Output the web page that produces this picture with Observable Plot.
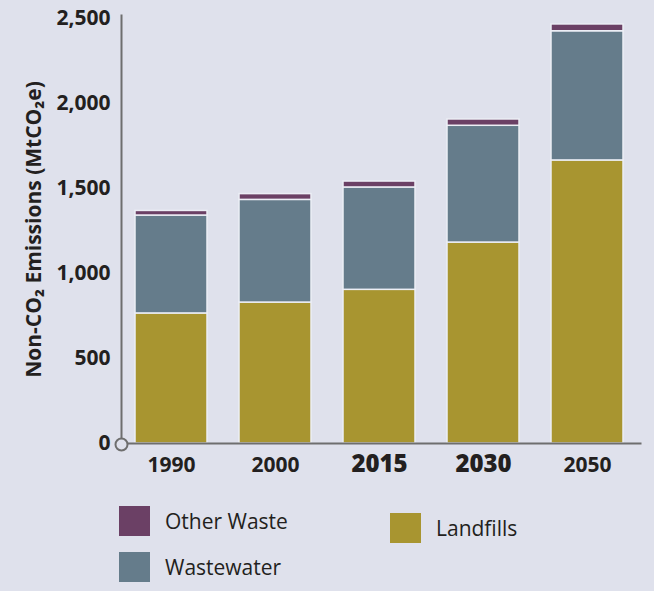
<!DOCTYPE html>
<html><head><meta charset="utf-8">
<script src="https://cdn.jsdelivr.net/npm/d3@7"></script>
<script src="https://cdn.jsdelivr.net/npm/@observablehq/plot@0.6"></script>
<style>
body{margin:0;background:#dfe1ec;}
#wrap{position:relative;width:654px;height:591px;background:#dfe1ec;font-family:"Open Sans",sans-serif;overflow:hidden}
#wrap svg{position:absolute;left:0;top:0}
.leg{position:absolute;display:flex;align-items:center;font-size:21px;color:#231f20;white-space:nowrap}
.sw{width:31px;height:30px;margin-right:15px;flex:none}
</style></head><body><div id="wrap"></div>
<script>
const years = ["1990", "2000", "2015", "2030", "2050"];
const landfills = [765, 829, 904, 1182, 1665];
const wastewater = [576, 604, 602, 687, 760];
const otherWaste = [27, 34, 35, 37, 40];
const seriesNames = ["Landfills", "Wastewater", "Other Waste"];
const seriesColors = ["#a89530", "#657c8b", "#6b4065"];
const boldYears = ["2015", "2030"];
const yTicks = [0, 500, 1000, 1500, 2000, 2500];
const yLabel = "Non-CO₂ Emissions (MtCO₂e)";

const rows = years.flatMap((yr, i) => [
  {year: yr, series: "Landfills", value: landfills[i]},
  {year: yr, series: "Wastewater", value: wastewater[i]},
  {year: yr, series: "Other Waste", value: otherWaste[i]}
]);

const bg = "#dfe1ec";
const axisColor = "#6e6e6e";
const ink = "#231f20";

const chart = Plot.plot({
  width: 654, height: 490,
  marginLeft: 121, marginRight: 14, marginTop: 15, marginBottom: 47,
  style: {background: "transparent", fontFamily: "'Open Sans', sans-serif", color: ink},
  x: {domain: years, range: [121, 637], paddingInner: 0.3077, paddingOuter: 0.1346, axis: null},
  y: {domain: [0, 2500], range: [443, 18], axis: null},
  color: {domain: seriesNames, range: seriesColors},
  marks: [
    Plot.barY(rows, {x: "year", y: "value", fill: "series", order: seriesNames, stroke: "#eceef5", strokeWidth: 1.5}),
    Plot.frame({anchor: "left", stroke: axisColor, strokeWidth: 2}),
    Plot.frame({anchor: "bottom", stroke: axisColor, strokeWidth: 2}),
    Plot.axisY({ticks: yTicks, tickFormat: d3.format(","), tickSize: 0, tickPadding: 11, fontSize: 21, fontWeight: 700, label: null, fill: ink}),
    Plot.text(years.filter(y => !boldYears.includes(y)), {x: d => d, frameAnchor: "bottom", dy: 28, fontSize: 21, fontWeight: 700, fill: ink}),
    Plot.text(boldYears, {x: d => d, frameAnchor: "bottom", dy: 28, fontSize: 24, fontWeight: 800, fill: ink}),
    Plot.text([yLabel], {x: null, y: null, text: d => d, frameAnchor: "left", textAnchor: "middle", rotate: -90, dx: -87, fontSize: 21, fontWeight: 700, fill: ink}),
    Plot.dot([0], {x: null, y: null, frameAnchor: "bottom-left", dy: 1, r: 6, fill: bg, stroke: axisColor, strokeWidth: 2})
  ]
});

const wrap = document.getElementById("wrap");
wrap.appendChild(chart);

const legendItems = [
  {name: "Other Waste", left: 119, top: 506},
  {name: "Wastewater", left: 119, top: 552},
  {name: "Landfills", left: 390, top: 513}
];
for (const it of legendItems) {
  const div = document.createElement("div");
  div.className = "leg";
  div.style.left = it.left + "px";
  div.style.top = it.top + "px";
  const sw = document.createElement("div");
  sw.className = "sw";
  sw.style.background = seriesColors[seriesNames.indexOf(it.name)];
  const t = document.createElement("span");
  t.textContent = it.name;
  div.appendChild(sw);
  div.appendChild(t);
  wrap.appendChild(div);
}
</script></body></html>
